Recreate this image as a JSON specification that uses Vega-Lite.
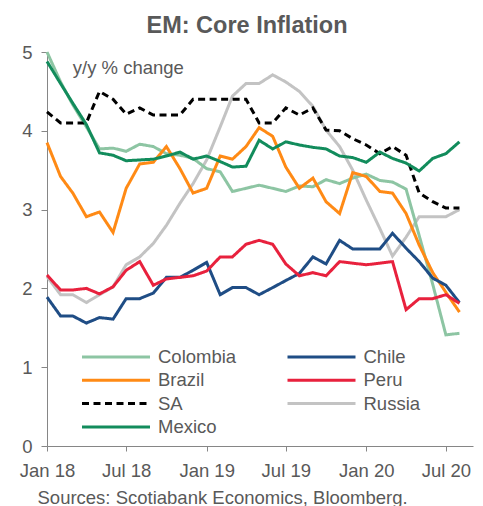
{
"$schema": "https://vega.github.io/schema/vega-lite/v6.json",
"width": 426, "height": 394,
"autosize": "none",
"padding": {"left": 47, "top": 52, "right": 10, "bottom": 60},
"background": "white",
"config": {"view": {"stroke": null}, "font": "Liberation Sans",
 "legend": {"orient": "none", "legendX": 33.5, "legendY": 295, "columns": 2, "title": null, "symbolType": "stroke", "symbolSize": 4624, "symbolStrokeWidth": 3, "clipHeight": 20, "rowPadding": 3.3, "columnPadding": 49.5, "labelOffset": 6.5, "labelFontSize": 18.5, "labelColor": "#595959", "labelFont": "Liberation Sans", "padding": 0, "labelLimit": 300}},
"title": {"text": "EM: Core Inflation", "fontSize": 23.5, "fontWeight": "bold", "color": "#595959", "font": "Liberation Sans", "anchor": "middle", "dx": -13, "offset": 6},
"encoding": {
 "x": {"field": "d", "type": "temporal", "scale": {"type": "utc", "domain": [{"year": 2018, "month": 1, "date": 1, "utc": true}, {"year": 2020, "month": 9, "date": 1, "utc": true}]},
  "axis": {"values": [{"year": 2018, "month": 1, "date": 1, "utc": true}, {"year": 2018, "month": 7, "date": 1, "utc": true}, {"year": 2019, "month": 1, "date": 1, "utc": true}, {"year": 2019, "month": 7, "date": 1, "utc": true}, {"year": 2020, "month": 1, "date": 1, "utc": true}, {"year": 2020, "month": 7, "date": 1, "utc": true}],
   "format": "%b %y", "grid": false, "domainColor": "#868686", "tickColor": "#868686", "tickSize": 5, "labelFontSize": 18.5, "labelColor": "#595959", "labelBaseline": "alphabetic", "labelPadding": 25.5, "labelFlush": false, "labelOverlap": false,
   "title": "Sources: Scotiabank Economics, Bloomberg.", "titleAnchor": "start", "titleAlign": "left", "titleX": -10, "titleY": 57, "titleBaseline": "alphabetic", "titleFontSize": 18.5, "titleFontWeight": "normal", "titleColor": "#595959"}},
 "y": {"field": "v", "type": "quantitative", "scale": {"domain": [0, 5], "nice": false, "zero": true},
  "axis": {"values": [0, 1, 2, 3, 4, 5], "grid": false, "title": null, "domainColor": "#868686", "tickColor": "#868686", "tickSize": 6, "labelFontSize": 18.5, "labelColor": "#595959", "labelPadding": 9, "labelFlush": false}}
},
"layer": [
 {"data": {"values": [
{"c":"Russia","d":"2018-01-01","v":2.15},{"c":"Russia","d":"2018-02-01","v":1.92},{"c":"Russia","d":"2018-03-01","v":1.92},{"c":"Russia","d":"2018-04-01","v":1.82},{"c":"Russia","d":"2018-05-01","v":1.92},{"c":"Russia","d":"2018-06-01","v":2.02},{"c":"Russia","d":"2018-07-01","v":2.30},{"c":"Russia","d":"2018-08-01","v":2.40},{"c":"Russia","d":"2018-09-01","v":2.57},{"c":"Russia","d":"2018-10-01","v":2.80},{"c":"Russia","d":"2018-11-01","v":3.08},{"c":"Russia","d":"2018-12-01","v":3.33},{"c":"Russia","d":"2019-01-01","v":3.63},{"c":"Russia","d":"2019-02-01","v":4.05},{"c":"Russia","d":"2019-03-01","v":4.44},{"c":"Russia","d":"2019-04-01","v":4.60},{"c":"Russia","d":"2019-05-01","v":4.60},{"c":"Russia","d":"2019-06-01","v":4.71},{"c":"Russia","d":"2019-07-01","v":4.62},{"c":"Russia","d":"2019-08-01","v":4.50},{"c":"Russia","d":"2019-09-01","v":4.31},{"c":"Russia","d":"2019-10-01","v":4.01},{"c":"Russia","d":"2019-11-01","v":3.80},{"c":"Russia","d":"2019-12-01","v":3.50},{"c":"Russia","d":"2020-01-01","v":3.12},{"c":"Russia","d":"2020-02-01","v":2.76},{"c":"Russia","d":"2020-03-01","v":2.41},{"c":"Russia","d":"2020-04-01","v":2.65},{"c":"Russia","d":"2020-05-01","v":2.91},{"c":"Russia","d":"2020-06-01","v":2.91},{"c":"Russia","d":"2020-07-01","v":2.91},{"c":"Russia","d":"2020-08-01","v":3.00},
{"c":"Colombia","d":"2018-01-01","v":5.0},{"c":"Colombia","d":"2018-02-01","v":4.62},{"c":"Colombia","d":"2018-03-01","v":4.33},{"c":"Colombia","d":"2018-04-01","v":4.05},{"c":"Colombia","d":"2018-05-01","v":3.77},{"c":"Colombia","d":"2018-06-01","v":3.78},{"c":"Colombia","d":"2018-07-01","v":3.74},{"c":"Colombia","d":"2018-08-01","v":3.83},{"c":"Colombia","d":"2018-09-01","v":3.80},{"c":"Colombia","d":"2018-10-01","v":3.71},{"c":"Colombia","d":"2018-11-01","v":3.69},{"c":"Colombia","d":"2018-12-01","v":3.65},{"c":"Colombia","d":"2019-01-01","v":3.52},{"c":"Colombia","d":"2019-02-01","v":3.48},{"c":"Colombia","d":"2019-03-01","v":3.23},{"c":"Colombia","d":"2019-04-01","v":3.27},{"c":"Colombia","d":"2019-05-01","v":3.31},{"c":"Colombia","d":"2019-06-01","v":3.27},{"c":"Colombia","d":"2019-07-01","v":3.23},{"c":"Colombia","d":"2019-08-01","v":3.30},{"c":"Colombia","d":"2019-09-01","v":3.29},{"c":"Colombia","d":"2019-10-01","v":3.38},{"c":"Colombia","d":"2019-11-01","v":3.33},{"c":"Colombia","d":"2019-12-01","v":3.40},{"c":"Colombia","d":"2020-01-01","v":3.45},{"c":"Colombia","d":"2020-02-01","v":3.37},{"c":"Colombia","d":"2020-03-01","v":3.35},{"c":"Colombia","d":"2020-04-01","v":3.26},{"c":"Colombia","d":"2020-05-01","v":2.67},{"c":"Colombia","d":"2020-06-01","v":2.05},{"c":"Colombia","d":"2020-07-01","v":1.41},{"c":"Colombia","d":"2020-08-01","v":1.43},
{"c":"Brazil","d":"2018-01-01","v":3.85},{"c":"Brazil","d":"2018-02-01","v":3.42},{"c":"Brazil","d":"2018-03-01","v":3.21},{"c":"Brazil","d":"2018-04-01","v":2.91},{"c":"Brazil","d":"2018-05-01","v":2.97},{"c":"Brazil","d":"2018-06-01","v":2.71},{"c":"Brazil","d":"2018-07-01","v":3.27},{"c":"Brazil","d":"2018-08-01","v":3.58},{"c":"Brazil","d":"2018-09-01","v":3.60},{"c":"Brazil","d":"2018-10-01","v":3.80},{"c":"Brazil","d":"2018-11-01","v":3.52},{"c":"Brazil","d":"2018-12-01","v":3.21},{"c":"Brazil","d":"2019-01-01","v":3.27},{"c":"Brazil","d":"2019-02-01","v":3.68},{"c":"Brazil","d":"2019-03-01","v":3.64},{"c":"Brazil","d":"2019-04-01","v":3.80},{"c":"Brazil","d":"2019-05-01","v":4.04},{"c":"Brazil","d":"2019-06-01","v":3.93},{"c":"Brazil","d":"2019-07-01","v":3.54},{"c":"Brazil","d":"2019-08-01","v":3.27},{"c":"Brazil","d":"2019-09-01","v":3.40},{"c":"Brazil","d":"2019-10-01","v":3.10},{"c":"Brazil","d":"2019-11-01","v":2.95},{"c":"Brazil","d":"2019-12-01","v":3.47},{"c":"Brazil","d":"2020-01-01","v":3.42},{"c":"Brazil","d":"2020-02-01","v":3.23},{"c":"Brazil","d":"2020-03-01","v":3.21},{"c":"Brazil","d":"2020-04-01","v":2.95},{"c":"Brazil","d":"2020-05-01","v":2.55},{"c":"Brazil","d":"2020-06-01","v":2.20},{"c":"Brazil","d":"2020-07-01","v":1.95},{"c":"Brazil","d":"2020-08-01","v":1.70},
{"c":"Chile","d":"2018-01-01","v":1.89},{"c":"Chile","d":"2018-02-01","v":1.65},{"c":"Chile","d":"2018-03-01","v":1.65},{"c":"Chile","d":"2018-04-01","v":1.56},{"c":"Chile","d":"2018-05-01","v":1.63},{"c":"Chile","d":"2018-06-01","v":1.61},{"c":"Chile","d":"2018-07-01","v":1.87},{"c":"Chile","d":"2018-08-01","v":1.87},{"c":"Chile","d":"2018-09-01","v":1.94},{"c":"Chile","d":"2018-10-01","v":2.14},{"c":"Chile","d":"2018-11-01","v":2.14},{"c":"Chile","d":"2018-12-01","v":2.23},{"c":"Chile","d":"2019-01-01","v":2.33},{"c":"Chile","d":"2019-02-01","v":1.92},{"c":"Chile","d":"2019-03-01","v":2.01},{"c":"Chile","d":"2019-04-01","v":2.01},{"c":"Chile","d":"2019-05-01","v":1.92},{"c":"Chile","d":"2019-06-01","v":2.01},{"c":"Chile","d":"2019-07-01","v":2.10},{"c":"Chile","d":"2019-08-01","v":2.19},{"c":"Chile","d":"2019-09-01","v":2.40},{"c":"Chile","d":"2019-10-01","v":2.31},{"c":"Chile","d":"2019-11-01","v":2.61},{"c":"Chile","d":"2019-12-01","v":2.50},{"c":"Chile","d":"2020-01-01","v":2.50},{"c":"Chile","d":"2020-02-01","v":2.50},{"c":"Chile","d":"2020-03-01","v":2.70},{"c":"Chile","d":"2020-04-01","v":2.51},{"c":"Chile","d":"2020-05-01","v":2.34},{"c":"Chile","d":"2020-06-01","v":2.13},{"c":"Chile","d":"2020-07-01","v":2.04},{"c":"Chile","d":"2020-08-01","v":1.82},
{"c":"Peru","d":"2018-01-01","v":2.17},{"c":"Peru","d":"2018-02-01","v":1.98},{"c":"Peru","d":"2018-03-01","v":1.98},{"c":"Peru","d":"2018-04-01","v":2.00},{"c":"Peru","d":"2018-05-01","v":1.93},{"c":"Peru","d":"2018-06-01","v":2.02},{"c":"Peru","d":"2018-07-01","v":2.23},{"c":"Peru","d":"2018-08-01","v":2.34},{"c":"Peru","d":"2018-09-01","v":2.04},{"c":"Peru","d":"2018-10-01","v":2.12},{"c":"Peru","d":"2018-11-01","v":2.14},{"c":"Peru","d":"2018-12-01","v":2.16},{"c":"Peru","d":"2019-01-01","v":2.22},{"c":"Peru","d":"2019-02-01","v":2.40},{"c":"Peru","d":"2019-03-01","v":2.40},{"c":"Peru","d":"2019-04-01","v":2.56},{"c":"Peru","d":"2019-05-01","v":2.61},{"c":"Peru","d":"2019-06-01","v":2.56},{"c":"Peru","d":"2019-07-01","v":2.31},{"c":"Peru","d":"2019-08-01","v":2.16},{"c":"Peru","d":"2019-09-01","v":2.20},{"c":"Peru","d":"2019-10-01","v":2.16},{"c":"Peru","d":"2019-11-01","v":2.34},{"c":"Peru","d":"2019-12-01","v":2.32},{"c":"Peru","d":"2020-01-01","v":2.30},{"c":"Peru","d":"2020-02-01","v":2.32},{"c":"Peru","d":"2020-03-01","v":2.34},{"c":"Peru","d":"2020-04-01","v":1.73},{"c":"Peru","d":"2020-05-01","v":1.87},{"c":"Peru","d":"2020-06-01","v":1.87},{"c":"Peru","d":"2020-07-01","v":1.92},{"c":"Peru","d":"2020-08-01","v":1.81},
{"c":"SA","d":"2018-01-01","v":4.24},{"c":"SA","d":"2018-02-01","v":4.10},{"c":"SA","d":"2018-03-01","v":4.10},{"c":"SA","d":"2018-04-01","v":4.10},{"c":"SA","d":"2018-05-01","v":4.50},{"c":"SA","d":"2018-06-01","v":4.40},{"c":"SA","d":"2018-07-01","v":4.21},{"c":"SA","d":"2018-08-01","v":4.29},{"c":"SA","d":"2018-09-01","v":4.20},{"c":"SA","d":"2018-10-01","v":4.20},{"c":"SA","d":"2018-11-01","v":4.20},{"c":"SA","d":"2018-12-01","v":4.40},{"c":"SA","d":"2019-01-01","v":4.40},{"c":"SA","d":"2019-02-01","v":4.40},{"c":"SA","d":"2019-03-01","v":4.40},{"c":"SA","d":"2019-04-01","v":4.40},{"c":"SA","d":"2019-05-01","v":4.10},{"c":"SA","d":"2019-06-01","v":4.10},{"c":"SA","d":"2019-07-01","v":4.29},{"c":"SA","d":"2019-08-01","v":4.20},{"c":"SA","d":"2019-09-01","v":4.29},{"c":"SA","d":"2019-10-01","v":4.01},{"c":"SA","d":"2019-11-01","v":4.00},{"c":"SA","d":"2019-12-01","v":3.90},{"c":"SA","d":"2020-01-01","v":3.82},{"c":"SA","d":"2020-02-01","v":3.71},{"c":"SA","d":"2020-03-01","v":3.80},{"c":"SA","d":"2020-04-01","v":3.69},{"c":"SA","d":"2020-05-01","v":3.21},{"c":"SA","d":"2020-06-01","v":3.10},{"c":"SA","d":"2020-07-01","v":3.02},{"c":"SA","d":"2020-08-01","v":3.02},
{"c":"Mexico","d":"2018-01-01","v":4.88},{"c":"Mexico","d":"2018-02-01","v":4.60},{"c":"Mexico","d":"2018-03-01","v":4.35},{"c":"Mexico","d":"2018-04-01","v":4.08},{"c":"Mexico","d":"2018-05-01","v":3.72},{"c":"Mexico","d":"2018-06-01","v":3.69},{"c":"Mexico","d":"2018-07-01","v":3.62},{"c":"Mexico","d":"2018-08-01","v":3.63},{"c":"Mexico","d":"2018-09-01","v":3.64},{"c":"Mexico","d":"2018-10-01","v":3.68},{"c":"Mexico","d":"2018-11-01","v":3.73},{"c":"Mexico","d":"2018-12-01","v":3.64},{"c":"Mexico","d":"2019-01-01","v":3.68},{"c":"Mexico","d":"2019-02-01","v":3.61},{"c":"Mexico","d":"2019-03-01","v":3.54},{"c":"Mexico","d":"2019-04-01","v":3.55},{"c":"Mexico","d":"2019-05-01","v":3.88},{"c":"Mexico","d":"2019-06-01","v":3.77},{"c":"Mexico","d":"2019-07-01","v":3.86},{"c":"Mexico","d":"2019-08-01","v":3.82},{"c":"Mexico","d":"2019-09-01","v":3.79},{"c":"Mexico","d":"2019-10-01","v":3.77},{"c":"Mexico","d":"2019-11-01","v":3.68},{"c":"Mexico","d":"2019-12-01","v":3.66},{"c":"Mexico","d":"2020-01-01","v":3.60},{"c":"Mexico","d":"2020-02-01","v":3.73},{"c":"Mexico","d":"2020-03-01","v":3.65},{"c":"Mexico","d":"2020-04-01","v":3.59},{"c":"Mexico","d":"2020-05-01","v":3.49},{"c":"Mexico","d":"2020-06-01","v":3.65},{"c":"Mexico","d":"2020-07-01","v":3.71},{"c":"Mexico","d":"2020-08-01","v":3.86}
 ]},
 "mark": {"type": "line", "strokeWidth": 3},
 "encoding": {
  "color": {"field": "c", "type": "nominal", "scale": {"domain": ["Colombia", "Brazil", "SA", "Mexico", "Chile", "Peru", "Russia"], "range": ["#8DC5A3", "#FF8A15", "#000000", "#128C5C", "#1F4D85", "#E8213D", "#C3C3C3"]}},
  "strokeDash": {"field": "c", "type": "nominal", "scale": {"domain": ["Colombia", "Brazil", "SA", "Mexico", "Chile", "Peru", "Russia"], "range": [[1, 0], [1, 0], [7, 4.5], [1, 0], [1, 0], [1, 0], [1, 0]]}}
 }},
 {"data": {"values": [{"d": "2018-03-01", "v": 4.8, "t": "y/y % change"}]},
  "mark": {"type": "text", "align": "left", "baseline": "middle", "fontSize": 18.5, "color": "#595959", "font": "Liberation Sans"},
  "encoding": {"text": {"field": "t", "type": "nominal"}}}
]
}
